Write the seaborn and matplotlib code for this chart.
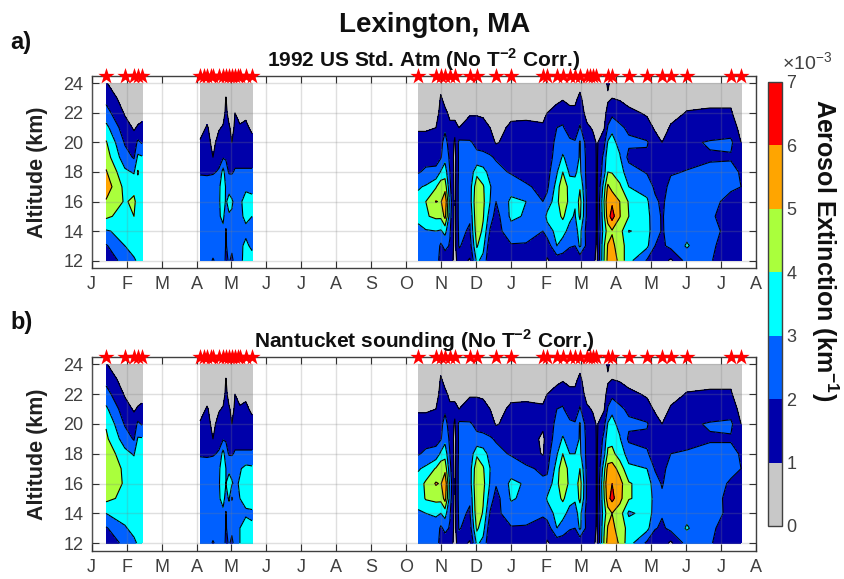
import numpy as np
import seaborn as sns
from matplotlib import pyplot as plt
from matplotlib.colors import ListedColormap

sns.set_theme(style="ticks")
plt.rcParams["font.family"] = ["Liberation Sans", "DejaVu Sans"]
plt.rcParams["mathtext.fontset"] = "custom"
plt.rcParams["mathtext.bf"] = "Liberation Sans:bold"
plt.rcParams["mathtext.rm"] = "Liberation Sans"

month_labels = ["J", "F", "M", "A", "M", "J", "J", "A", "S", "O", "N", "D",
                "J", "F", "M", "A", "M", "J", "J", "A"]
altitudes = [12, 13, 14, 15, 16, 17, 18, 19, 20, 21, 22, 23, 24]
alt_ticks = [12, 14, 16, 18, 20, 22, 24]
levels = [0, 1, 2, 3, 4, 5, 6, 7]
colors = ["#c8c8c8", "#0000aa", "#0060ff", "#00ffff", "#aaff3c", "#ffa500", "#ff0000"]

star_months = [0.41, 0.95, 1.21, 1.32, 1.44,
               3.10, 3.21, 3.30, 3.41, 3.47, 3.64, 3.76, 3.84, 3.93, 4.01, 4.10, 4.18, 4.24, 4.41, 4.59,
               9.34, 9.85, 9.99, 10.11, 10.25, 10.39, 10.82, 11.02, 11.57, 12.0, 12.91, 13.03,
               13.31, 13.48, 13.68, 13.83, 13.97, 14.17, 14.26, 14.34, 14.43, 14.77, 14.89,
               15.37, 15.89, 16.32, 16.57, 17.03, 18.29, 18.58]

times_1 = [0.41, 0.95, 1.21, 1.32, 1.44]
times_2 = [3.10, 3.30, 3.47, 3.64, 3.76, 3.84, 3.93, 4.01, 4.10, 4.24, 4.41, 4.59]
times_3 = [9.34, 9.56, 9.85, 9.99, 10.11, 10.25, 10.39, 10.51, 10.82, 11.02, 11.20, 11.40, 11.57,
           12.0, 12.43, 12.91, 13.03, 13.31, 13.48, 13.68, 13.83, 13.97, 14.17, 14.34, 14.46,
           14.66, 14.77, 14.89, 15.11, 15.37, 15.89, 16.12, 16.32, 16.57, 17.03, 17.69, 18.29, 18.58]

# one row per date, 12 km up to 24 km
seg1_a = [[1.5, 1.9, 2.9, 4.2, 4.9, 5.6, 5.1, 4.5, 4.1, 3.3, 2.4, 1.7, 1.05],
          [2.3, 3.0, 3.3, 3.6, 3.9, 3.7, 3.2, 2.4, 1.9, 1.4, 0.9, 0.5, 0.4],
          [2.9, 3.3, 3.6, 4.0, 4.2, 3.7, 2.9, 1.9, 1.4, 0.9, 0.4, 0.3, 0.3],
          [3.1, 3.3, 3.5, 3.6, 3.6, 3.6, 4.1, 3.2, 2.2, 1.1, 0.6, 0.3, 0.3],
          [3.2, 3.4, 3.5, 3.5, 3.5, 3.3, 3.4, 3.1, 1.9, 1.2, 0.7, 0.3, 0.3]]
seg1_b = [[1.5, 1.9, 3.0, 4.3, 4.6, 4.8, 4.7, 4.2, 3.9, 3.2, 2.4, 1.7, 1.05],
          [2.2, 2.9, 3.4, 3.7, 3.9, 3.8, 3.3, 2.5, 1.9, 1.4, 0.9, 0.5, 0.4],
          [2.8, 3.3, 3.6, 3.8, 3.9, 3.6, 2.9, 1.9, 1.4, 0.9, 0.4, 0.3, 0.3],
          [3.1, 3.3, 3.5, 3.6, 3.6, 3.5, 3.8, 3.1, 2.2, 1.1, 0.6, 0.3, 0.3],
          [3.2, 3.4, 3.5, 3.5, 3.5, 3.3, 3.3, 3.1, 1.9, 1.2, 0.7, 0.3, 0.3]]

seg2_a = [[2.5, 2.6, 2.7, 2.8, 2.7, 2.4, 1.9, 1.5, 1.1, 0.6, 0.3, 0.2, 0.2],
          [2.5, 2.6, 2.8, 2.9, 2.8, 2.3, 1.9, 1.6, 1.4, 1.1, 0.6, 0.2, 0.2],
          [1.9, 2.5, 2.8, 2.8, 2.7, 2.5, 1.9, 1.0, 0.7, 0.6, 0.3, 0.2, 0.2],
          [2.4, 2.6, 2.8, 2.9, 2.9, 2.8, 2.1, 1.7, 1.4, 0.9, 0.6, 0.2, 0.2],
          [2.5, 2.7, 2.8, 3.2, 3.4, 3.6, 3.4, 1.9, 1.6, 1.1, 0.6, 0.2, 0.2],
          [1.8, 1.9, 1.9, 2.5, 2.9, 2.9, 2.4, 1.9, 1.9, 1.5, 1.2, 1.05, 0.4],
          [2.1, 2.4, 2.6, 2.9, 3.3, 2.7, 1.9, 1.7, 1.5, 1.1, 0.7, 0.3, 0.2],
          [1.8, 2.2, 2.7, 2.9, 3.1, 2.6, 1.9, 1.6, 1.0, 0.8, 0.5, 0.2, 0.2],
          [2.3, 2.6, 2.8, 2.9, 2.8, 2.7, 2.1, 1.7, 1.1, 1.1, 1.0, 0.3, 0.2],
          [2.7, 2.9, 2.9, 2.9, 2.9, 2.7, 2.1, 1.7, 1.5, 1.1, 0.7, 0.2, 0.2],
          [3.4, 3.1, 2.9, 3.1, 3.2, 2.9, 2.1, 1.7, 1.5, 1.2, 0.8, 0.2, 0.2],
          [3.2, 2.9, 2.9, 3.0, 3.1, 2.9, 2.1, 1.7, 1.3, 0.8, 0.5, 0.2, 0.2]]
seg2_b = [[2.5, 2.6, 2.7, 2.8, 2.7, 2.4, 1.9, 1.5, 1.1, 0.6, 0.3, 0.2, 0.2],
          [2.5, 2.6, 2.8, 2.9, 2.8, 2.3, 1.9, 1.6, 1.4, 1.1, 0.6, 0.2, 0.2],
          [1.9, 2.5, 2.8, 2.8, 2.7, 2.5, 1.9, 1.0, 0.7, 0.6, 0.3, 0.2, 0.2],
          [2.4, 2.6, 2.8, 2.9, 2.9, 2.8, 2.1, 1.7, 1.4, 0.9, 0.6, 0.2, 0.2],
          [2.5, 2.7, 2.8, 3.3, 3.6, 3.7, 3.4, 1.9, 1.6, 1.1, 0.6, 0.2, 0.2],
          [1.8, 1.9, 1.9, 2.7, 3.0, 3.0, 2.4, 1.9, 1.9, 1.5, 1.2, 1.05, 0.4],
          [2.1, 2.4, 2.6, 3.1, 3.4, 2.8, 1.9, 1.7, 1.5, 1.1, 0.7, 0.3, 0.2],
          [1.8, 2.2, 2.7, 1.9, 3.1, 2.7, 1.9, 1.6, 1.0, 0.8, 0.5, 0.2, 0.2],
          [2.3, 2.6, 2.8, 2.9, 2.8, 2.7, 2.1, 1.7, 1.1, 1.1, 1.0, 0.3, 0.2],
          [3.0, 3.0, 2.9, 3.0, 3.1, 2.9, 2.1, 1.7, 1.5, 1.1, 0.7, 0.2, 0.2],
          [3.6, 3.3, 2.9, 3.2, 3.4, 3.3, 2.1, 1.7, 1.5, 1.2, 0.8, 0.2, 0.2],
          [3.4, 3.1, 2.9, 3.3, 3.4, 3.2, 2.1, 1.7, 1.3, 0.8, 0.5, 0.2, 0.2]]

seg3_a = [[2.4, 2.6, 2.8, 3.2, 3.3, 2.9, 1.9, 1.6, 1.3, 0.9, 0.5, 0.3, 0.3],
          [2.5, 2.7, 2.9, 3.9, 4.0, 3.1, 2.2, 1.6, 1.3, 0.9, 0.5, 0.3, 0.3],
          [2.5, 2.7, 3.0, 4.2, 5.05, 3.9, 2.2, 1.7, 1.4, 1.0, 0.6, 0.3, 0.3],
          [1.6, 1.8, 2.9, 4.2, 4.9, 4.7, 3.1, 1.9, 1.7, 1.5, 1.3, 1.1, 0.7],
          [1.4, 2.3, 3.3, 5.3, 5.8, 4.6, 3.5, 2.7, 2.4, 1.8, 1.2, 0.7, 0.4],
          [1.5, 1.9, 2.1, 2.4, 2.6, 2.2, 2.0, 1.8, 1.5, 1.2, 0.8, 0.4, 0.3],
          [0.7, 0.7, 0.7, 0.7, 0.7, 0.7, 0.7, 0.7, 0.9, 1.2, 0.8, 0.4, 0.3],
          [1.4, 2.1, 2.2, 2.3, 2.3, 2.3, 2.2, 2.2, 2.2, 1.0, 0.7, 0.3, 0.3],
          [0.9, 1.5, 1.9, 2.1, 2.5, 2.5, 2.3, 2.1, 2.1, 1.4, 0.9, 0.5, 0.4],
          [3.2, 4.1, 4.6, 4.9, 5.0, 4.7, 3.7, 2.2, 1.8, 1.4, 0.9, 0.4, 0.3],
          [2.7, 3.3, 3.8, 4.1, 4.2, 4.1, 3.4, 2.2, 1.7, 1.2, 0.9, 0.4, 0.3],
          [1.1, 1.3, 1.9, 2.5, 3.0, 3.1, 2.6, 2.1, 1.5, 1.0, 0.7, 0.4, 0.3],
          [1.0, 1.3, 1.6, 1.6, 2.0, 2.3, 2.3, 1.9, 0.9, 0.7, 0.6, 0.4, 0.4],
          [1.6, 1.9, 2.6, 3.2, 3.2, 2.6, 1.9, 1.6, 1.4, 1.15, 0.8, 0.4, 0.3],
          [1.6, 1.9, 2.4, 2.9, 3.0, 2.1, 1.7, 1.6, 1.4, 1.2, 0.8, 0.4, 0.3],
          [1.5, 1.6, 2.0, 2.2, 2.0, 1.8, 1.6, 1.7, 1.4, 1.1, 0.8, 0.4, 0.3],
          [0.9, 1.4, 2.5, 3.3, 2.3, 1.8, 1.6, 1.4, 1.3, 1.2, 1.0, 0.5, 0.3],
          [1.4, 3.0, 3.3, 3.6, 3.7, 3.4, 2.9, 2.5, 2.3, 2.0, 1.3, 0.8, 0.4],
          [1.4, 2.6, 3.3, 4.2, 4.9, 4.9, 4.0, 3.1, 2.6, 2.1, 1.6, 0.9, 0.4],
          [1.2, 2.1, 2.7, 3.2, 3.6, 3.5, 2.8, 2.6, 2.2, 1.5, 1.2, 0.8, 0.4],
          [1.6, 2.0, 2.7, 2.9, 3.1, 3.2, 2.9, 2.5, 2.1, 1.4, 1.2, 0.8, 0.4],
          [1.2, 3.2, 3.3, 4.2, 4.4, 3.9, 3.2, 3.1, 3.1, 2.1, 1.6, 1.2, 0.7],
          [1.3, 1.7, 1.6, 1.8, 1.8, 1.7, 1.7, 1.7, 1.5, 1.2, 0.6, 0.4, 0.3],
          [1.1, 1.3, 1.4, 1.4, 1.4, 1.4, 1.4, 1.4, 1.3, 0.9, 0.4, 0.3, 0.3],
          [0.9, 0.9, 0.9, 0.9, 0.9, 0.9, 0.9, 0.9, 0.9, 0.7, 0.4, 0.3, 0.3],
          [4.0, 3.9, 3.5, 3.8, 4.0, 3.5, 2.6, 2.3, 1.7, 0.9, 0.5, 0.3, 0.5],
          [5.3, 5.1, 4.4, 5.6, 5.9, 5.2, 4.0, 3.7, 3.1, 2.1, 1.5, 0.8, 1.2],
          [5.6, 5.3, 4.9, 6.4, 5.85, 4.6, 3.95, 3.7, 3.3, 2.8, 1.7, 1.0, 0.6],
          [4.7, 4.4, 4.4, 5.05, 5.0, 4.2, 3.4, 3.1, 2.7, 2.2, 1.5, 0.9, 0.4],
          [3.3, 3.6, 2.95, 4.0, 3.9, 3.0, 2.5, 1.7, 2.2, 1.8, 1.2, 0.7, 0.3],
          [1.9, 3.2, 3.3, 3.3, 3.15, 2.6, 1.9, 1.8, 2.1, 1.3, 0.9, 0.4, 0.3],
          [1.0, 2.0, 2.5, 2.4, 2.2, 1.8, 1.6, 1.5, 1.3, 0.9, 0.5, 0.3, 0.3],
          [1.5, 1.8, 1.9, 1.9, 1.8, 1.6, 1.5, 1.3, 1.0, 0.6, 0.4, 0.3, 0.3],
          [0.8, 2.3, 2.4, 2.5, 2.5, 2.3, 1.9, 1.6, 1.4, 1.1, 0.7, 0.3, 0.3],
          [2.4, 3.1, 2.7, 2.6, 2.6, 2.4, 2.05, 1.7, 1.8, 1.4, 1.05, 0.7, 0.3],
          [2.1, 2.2, 2.4, 2.1, 2.2, 2.3, 2.2, 1.9, 2.1, 1.3, 1.1, 0.8, 0.3],
          [1.3, 1.5, 1.6, 1.7, 1.8, 2.1, 2.3, 1.9, 2.2, 1.5, 1.1, 0.8, 0.3],
          [1.3, 1.3, 1.4, 1.5, 1.7, 2.0, 1.9, 1.4, 1.0, 0.7, 0.4, 0.3, 0.3]]
seg3_b = [[2.4, 2.6, 2.9, 3.3, 3.4, 2.9, 1.9, 1.6, 1.3, 0.9, 0.5, 0.3, 0.3],
          [2.5, 2.7, 3.0, 4.1, 4.2, 3.2, 2.2, 1.6, 1.3, 0.9, 0.5, 0.3, 0.3],
          [2.5, 2.7, 3.1, 4.3, 5.1, 4.1, 2.3, 1.7, 1.4, 1.0, 0.6, 0.3, 0.3],
          [1.6, 1.8, 3.0, 4.3, 4.9, 4.8, 3.2, 1.9, 1.7, 1.5, 1.3, 1.1, 0.7],
          [1.4, 2.3, 3.4, 5.4, 5.8, 4.7, 3.6, 2.7, 2.4, 1.8, 1.2, 0.7, 0.4],
          [1.5, 1.9, 2.1, 2.5, 2.7, 2.3, 2.0, 1.8, 1.5, 1.2, 0.8, 0.4, 0.3],
          [0.7, 0.7, 0.7, 0.7, 0.7, 0.7, 0.7, 0.7, 0.9, 1.2, 0.8, 0.4, 0.3],
          [1.4, 2.1, 2.2, 2.3, 2.3, 2.3, 2.2, 2.2, 2.2, 1.0, 0.7, 0.3, 0.3],
          [0.9, 1.5, 1.9, 2.1, 2.5, 2.5, 2.3, 2.1, 2.1, 1.4, 0.9, 0.5, 0.4],
          [3.2, 4.2, 4.7, 4.9, 5.0, 4.8, 3.8, 2.2, 1.8, 1.4, 0.9, 0.4, 0.3],
          [2.7, 3.4, 3.9, 4.1, 4.3, 4.1, 3.5, 2.2, 1.7, 1.2, 0.9, 0.4, 0.3],
          [1.1, 1.3, 1.9, 2.5, 2.9, 3.0, 2.6, 2.1, 1.5, 1.0, 0.7, 0.4, 0.3],
          [1.0, 1.3, 1.7, 1.6, 2.1, 2.4, 2.3, 1.9, 0.9, 0.7, 0.6, 0.4, 0.4],
          [1.6, 1.9, 2.6, 3.1, 3.2, 2.6, 1.9, 1.6, 1.4, 1.15, 0.8, 0.4, 0.3],
          [1.6, 1.9, 2.4, 2.8, 2.9, 2.1, 1.7, 1.6, 1.4, 1.2, 0.8, 0.4, 0.3],
          [1.5, 1.7, 2.1, 2.3, 2.1, 1.9, 0.9, 0.8, 1.2, 1.1, 0.8, 0.4, 0.3],
          [0.9, 1.4, 2.5, 3.1, 2.3, 1.8, 1.6, 1.4, 1.3, 1.2, 1.0, 0.5, 0.3],
          [1.4, 3.0, 3.3, 3.6, 3.7, 3.4, 2.9, 2.5, 2.3, 2.0, 1.3, 0.8, 0.4],
          [1.4, 2.6, 3.3, 4.2, 4.9, 4.9, 4.0, 3.1, 2.6, 2.1, 1.6, 0.9, 0.4],
          [1.2, 2.1, 2.7, 3.3, 3.7, 3.5, 3.0, 2.6, 2.2, 1.5, 1.2, 0.8, 0.4],
          [1.6, 2.0, 2.7, 3.1, 3.3, 3.3, 3.0, 2.5, 2.1, 1.4, 1.2, 0.8, 0.4],
          [1.2, 3.2, 3.3, 4.3, 4.5, 4.0, 3.2, 3.1, 3.1, 2.1, 1.6, 1.2, 0.7],
          [1.3, 1.7, 1.6, 1.8, 1.8, 1.7, 1.7, 1.7, 1.5, 1.2, 0.6, 0.4, 0.3],
          [1.1, 1.3, 1.4, 1.4, 1.4, 1.4, 1.4, 1.4, 1.3, 0.9, 0.4, 0.3, 0.3],
          [0.9, 0.9, 0.9, 0.9, 0.9, 0.9, 0.9, 0.9, 0.9, 0.7, 0.4, 0.3, 0.3],
          [4.1, 3.9, 3.6, 3.9, 4.1, 3.6, 2.7, 2.3, 1.7, 0.9, 0.5, 0.3, 0.5],
          [5.4, 5.1, 4.5, 5.7, 6.0, 5.4, 4.2, 3.7, 3.1, 2.1, 1.5, 0.8, 1.2],
          [5.8, 5.3, 5.0, 6.3, 6.0, 5.5, 4.3, 3.7, 3.3, 2.8, 1.7, 1.0, 0.6],
          [4.8, 4.5, 4.5, 5.3, 5.4, 4.6, 3.5, 3.1, 2.7, 2.2, 1.5, 0.9, 0.4],
          [3.4, 3.7, 2.8, 4.1, 4.1, 3.2, 2.6, 1.8, 2.2, 1.8, 1.2, 0.7, 0.3],
          [1.8, 3.3, 3.4, 3.5, 3.5, 3.0, 2.1, 1.8, 2.1, 1.3, 0.9, 0.4, 0.3],
          [1.0, 2.1, 2.7, 2.7, 2.5, 1.9, 1.6, 1.5, 1.3, 0.9, 0.5, 0.3, 0.3],
          [1.5, 1.8, 2.1, 2.2, 1.9, 1.7, 1.5, 1.3, 1.0, 0.6, 0.4, 0.3, 0.3],
          [0.8, 2.3, 2.5, 2.6, 2.6, 2.4, 2.0, 1.6, 1.4, 1.1, 0.7, 0.3, 0.3],
          [2.4, 3.1, 2.7, 2.7, 2.7, 2.5, 2.1, 1.7, 1.8, 1.4, 1.05, 0.7, 0.3],
          [2.1, 2.2, 2.5, 2.3, 2.4, 2.4, 2.3, 1.9, 2.1, 1.3, 1.1, 0.8, 0.3],
          [1.3, 1.5, 1.7, 1.8, 1.9, 2.2, 2.3, 1.9, 2.2, 1.5, 1.1, 0.8, 0.3],
          [1.3, 1.3, 1.4, 1.5, 1.7, 2.0, 1.9, 1.4, 1.0, 0.7, 0.4, 0.3, 0.3]]

W, H = 844, 579
cmap = ListedColormap(colors)
fig = plt.figure(figsize=(W / 100, H / 100), dpi=100)


def box(left, top, right, bottom):
    return [left / W, 1 - bottom / H, (right - left) / W, (bottom - top) / H]


def draw_panel(ax, segments, subtitle_y, subtitle):
    for times, table in segments:
        z = np.array(table).T
        cf = ax.contourf(times, altitudes, z, levels=levels, cmap=cmap, vmin=0, vmax=7, zorder=1)
        ax.contour(times, altitudes, z, levels=levels[1:-1], colors="black", linewidths=0.8, zorder=2)
    ax.grid(True, color="#808080", alpha=0.25, linewidth=1, zorder=3)
    ax.set_axisbelow(False)
    sns.scatterplot(x=star_months, y=[24.5] * len(star_months), ax=ax, marker="*", s=150,
                    color="red", linewidth=0, clip_on=False, zorder=5, legend=False)
    ax.set_xlim(0, 19)
    ax.set_ylim(11.5, 24.5)
    ax.set_xticks(range(len(month_labels)))
    ax.set_xticklabels(month_labels)
    ax.set_yticks(alt_ticks)
    ax.tick_params(direction="in", top=True, right=True, length=5, width=0.8, color="#303030",
                   labelsize=13, labelcolor="#404040", pad=6)
    ax.set_ylabel("Altitude (km)", fontsize=15.5, fontweight="bold", color="#202020")
    ax.yaxis.set_label_coords(-0.066, 0.5)
    for sp in ax.spines.values():
        sp.set_color("#404040")
        sp.set_linewidth(1)
    fig.text(424 / W, 1 - subtitle_y / H, subtitle, ha="center", va="center", fontsize=15,
             fontweight="bold", color="#101010", zorder=1)
    return cf


ax_a = fig.add_axes(box(91.7, 76, 755.7, 268))
ax_b = fig.add_axes(box(91.7, 357, 755.7, 550.5))
cf = draw_panel(ax_a, [(times_1, seg1_a), (times_2, seg2_a), (times_3, seg3_a)], 60,
                r"1992 US Std. Atm (No T$^{\mathbf{-2}}$ Corr.)")
draw_panel(ax_b, [(times_1, seg1_b), (times_2, seg2_b), (times_3, seg3_b)], 341,
           r"Nantucket sounding (No T$^{\mathbf{-2}}$ Corr.)")

fig.text(435 / W, 1 - 25 / H, "Lexington, MA", ha="center", va="center", fontsize=20,
         fontweight="bold", color="#101010")
fig.text(10 / W, 1 - 42 / H, "a)", ha="left", va="center", fontsize=17, fontweight="bold", color="#101010")
fig.text(10 / W, 1 - 323 / H, "b)", ha="left", va="center", fontsize=17, fontweight="bold", color="#101010")

cax = fig.add_axes(box(768, 82, 782, 526))
cbar = fig.colorbar(cf, cax=cax, ticks=levels)
cbar.ax.tick_params(length=0, labelsize=13, labelcolor="#404040", pad=3)
cbar.outline.set_edgecolor("#404040")
cbar.outline.set_linewidth(1)
fig.text(782 / W, 1 - 63 / H, "×10$^{-3}$", ha="left", va="center", fontsize=14, color="#404040")
fig.text(825 / W, 1 - 250 / H, r"Aerosol Extinction (km$^{\mathbf{-1}}$)", ha="center", va="center",
         rotation=270, fontsize=18, fontweight="bold", color="#101010")

fig.savefig("out.png", dpi=100)
